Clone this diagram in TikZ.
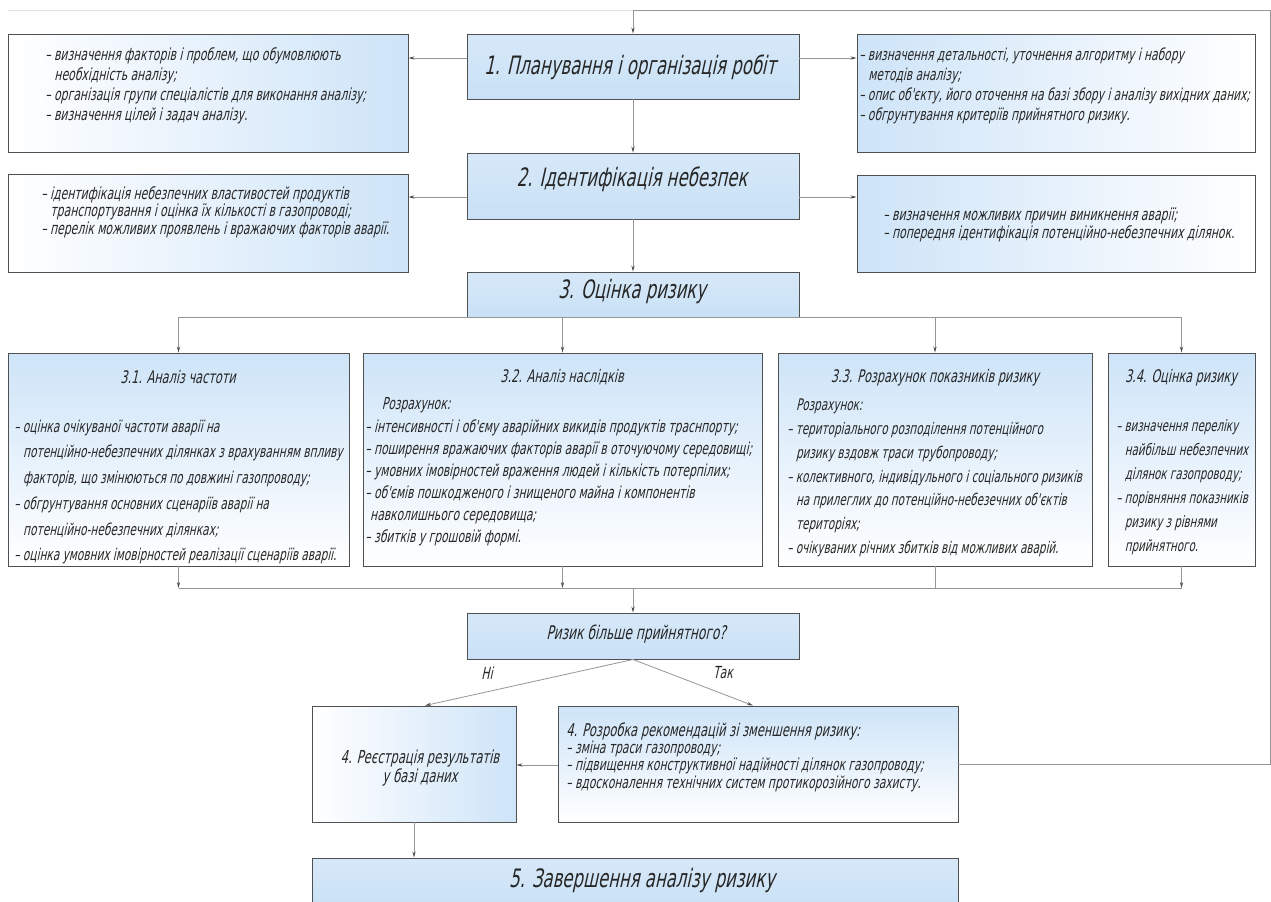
\documentclass[tikz,border=0pt]{standalone}
\usepackage{fontspec}
\newfontfamily\gost{DejaVu Sans}[FakeSlant=0.22,FakeStretch=0.65]
\usetikzlibrary{fit,arrows.meta,shadows}
\definecolor{boxblue}{RGB}{201,225,246}
\definecolor{sideblue}{RGB}{206,228,248}
\definecolor{edgegray}{RGB}{80,80,80}
\definecolor{linegray}{RGB}{150,150,150}
\tikzset{
  boxbase/.style={draw=edgegray, line width=0.7pt, inner sep=0pt,
    drop shadow={shadow xshift=0.4pt,shadow yshift=-0.9pt,opacity=0.45}},
  mainbox/.style={boxbase, top color=boxblue!75, bottom color=boxblue},
  sideL/.style={boxbase, left color=white, right color=sideblue},
  sideR/.style={boxbase, left color=sideblue, right color=white},
  subbox/.style={boxbase, top color=sideblue, bottom color=white},
  conn/.style={draw=linegray, line width=0.6pt},
  arr/.style={conn, -{Stealth[length=4.5pt,width=2.4pt,color=black!70]}},
  txt/.style={font=\gost\fontsize{12.5}{15}\selectfont, align=left, inner sep=0pt, text=black!85},
  titleT/.style={font=\gost\fontsize{19}{22}\selectfont, inner sep=0pt, text=black!85},
  subT/.style={font=\gost\fontsize{13}{15}\selectfont, inner sep=0pt, text=black!85},
  lbl/.style={font=\gost\fontsize{12.5}{14}\selectfont, inner sep=0pt, text=black!85},
}
\begin{document}
\begin{tikzpicture}[x=0.75pt,y=-0.75pt]
\useasboundingbox (0,0) rectangle (1271,901);
\fill[white] (0,0) rectangle (1271,901);

% boxes
\node[mainbox, fit={(467,34) (799,99)}] (B1) {};
\node[sideL, fit={(8,34) (408,152)}] (L1) {};
\node[sideR, fit={(857,34) (1255,152)}] (R1) {};
\node[mainbox, fit={(467,153) (799,219)}] (B2) {};
\node[sideL, fit={(8,174) (408,272)}] (L2) {};
\node[sideR, fit={(857,175) (1255,272)}] (R2) {};
\node[mainbox, fit={(467,272) (799,317)}] (B3) {};
\node[subbox, fit={(8,353) (349,566)}] (A31) {};
\node[subbox, fit={(363,353) (762,566)}] (A32) {};
\node[subbox, fit={(778,353) (1092,566)}] (A33) {};
\node[subbox, fit={(1108,353) (1255,566)}] (A34) {};
\node[mainbox, fit={(467,613) (799,659)}] (D) {};
\node[sideL, fit={(312,706) (516,822)}] (G4) {};
\node[subbox, fit={(558,706) (958,822)}] (R4) {};
\node[mainbox, fit={(312,858) (958,910)}] (B5) {};

% texts
\node[titleT] (tB1) at (630,67) {1. Планування і організація робіт};
\node[titleT] (tB2) at (632,179) {2. Ідентифікація небезпек};
\node[titleT] (tB3) at (632,292) {3. Оцінка ризику};
\node[titleT] (tB5) at (642,880) {5. Завершення аналізу ризику};

\node[txt, anchor=west] (tL1) at (45,86) {– визначення факторів і проблем, що обумовлюють\\\hspace*{0.55em}необхідність аналізу;\\– організація групи спеціалістів для виконання аналізу;\\– визначення цілей і задач аналізу.};
\node[txt, anchor=west, font=\gost\fontsize{12.3}{15}\selectfont] (tR1) at (859,86) {– визначення детальності, уточнення алгоритму і набору\\\hspace*{0.55em}методів аналізу;\\– опис об'єкту, його оточення на базі збору і аналізу вихідних даних;\\– обгрунтування критеріїв прийнятного ризику.};
\node[txt, anchor=west, font=\gost\fontsize{12.5}{13}\selectfont] (tL2) at (41,212) {– ідентифікація небезпечних властивостей продуктів\\\hspace*{0.55em}транспортування і оцінка їх кількості в газопроводі;\\– перелік можливих проявлень і вражаючих факторів аварії.};
\node[txt, anchor=west, font=\gost\fontsize{12.5}{13}\selectfont] (tR2) at (883,225) {– визначення можливих причин виникнення аварії;\\– попередня ідентифікація потенційно-небезпечних ділянок.};

\node[subT] (t31) at (178,377) {3.1. Аналіз частоти};
\node[subT] (t32) at (562,377) {3.2. Аналіз наслідків};
\node[subT] (t33) at (935,378) {3.3. Розрахунок показників ризику};
\node[subT] (t34) at (1181,378) {3.4. Оцінка ризику};

\node[txt, anchor=west, font=\gost\fontsize{12.2}{19.3}\selectfont] (b31) at (14,492) {– оцінка очікуваної частоти аварії на\\\hspace*{0.55em}потенційно-небезпечних ділянках з врахуванням впливу\\\hspace*{0.55em}факторів, що змінюються по довжині газопроводу;\\– обгрунтування основних сценаріїв аварії на\\\hspace*{0.55em}потенційно-небезпечних ділянках;\\– оцінка умовних імовірностей реалізації сценаріїв аварії.};
\node[txt, anchor=west, font=\gost\fontsize{12.4}{16.6}\selectfont] (b32) at (365,472) {\hspace*{1em}Розрахунок:\\– інтенсивності і об'єму аварійних викидів продуктів траснпорту;\\– поширення вражаючих факторів аварії в оточуючому середовищі;\\– умовних імовірностей враження людей і кількість потерпілих;\\– об'ємів пошкодженого і знищеного майна і компонентів\\\hspace*{0.3em}навколишнього середовища;\\– збитків у грошовій формі.};
\node[txt, anchor=west, font=\gost\fontsize{12}{17.8}\selectfont] (b33) at (787,478) {\hspace*{0.55em}Розрахунок:\\– територіального розподілення потенційного\\\hspace*{0.55em}ризику вздовж траси трубопроводу;\\– колективного, індивідульного і соціального ризиків\\\hspace*{0.55em}на прилеглих до потенційно-небезечних об'єктів\\\hspace*{0.55em}територіях;\\– очікуваних річних збитків від можливих аварій.};
\node[txt, anchor=west, font=\gost\fontsize{11.8}{18}\selectfont] (b34) at (1116,487) {– визначення переліку\\\hspace*{0.55em}найбільш небезпечних\\\hspace*{0.55em}ділянок газопроводу;\\– порівняння показників\\\hspace*{0.55em}ризику з рівнями\\\hspace*{0.55em}прийнятного.};

\node[lbl, font=\gost\fontsize{14.1}{16}\selectfont] (tD) at (636,634) {Ризик більше прийнятного?};
\node[lbl] (lNi) at (487,673) {Ні};
\node[lbl] (lTak) at (723,673) {Так};

\node[txt, align=center, font=\gost\fontsize{13.4}{14.5}\selectfont] (tG4) at (420,768) {4. Реєстрація результатів\\у базі даних};
\node[txt, anchor=west, font=\gost\fontsize{12.4}{12}\selectfont] (tR4) at (566,757) {{\fontsize{13.2}{12}\selectfont 4. Розробка рекомендацій зі зменшення ризику:}\\– зміна траси газопроводу;\\– підвищення конструктивної надійності ділянок газопроводу;\\– вдосконалення технічних систем протикорозійного захисту.};

% connectors
\coordinate (fbT) at (1270,10);
\coordinate (tl) at (8,10);
\draw[draw=gray!25, line width=0.6pt] (tl) -- (B1.north |- fbT);
\draw[arr] (R4.east) -| (fbT) -| (B1.north);

\draw[arr] (B1.west |- 0,58) -- (L1.east |- 0,58);
\draw[arr] (B1.east |- 0,58) -- (R1.west |- 0,58);
\draw[arr] (B1.south) -- (B2.north);
\draw[arr] (B2.west |- 0,197) -- (L2.east |- 0,197);
\draw[arr] (B2.east |- 0,197) -- (R2.west |- 0,197);
\draw[arr] (B2.south) -- (B3.north);

\draw[arr] (B3.south) -| (A31.north);
\draw[arr] (B3.south) -| (A32.north);
\draw[arr] (B3.south) -| (A33.north);
\draw[arr] (B3.south) -| (A34.north);

\coordinate (colM) at (633,588);
\draw[arr] (A31.south) -- (A31.south |- colM);
\draw[arr] (A32.south) -- (A32.south |- colM);
\draw[conn] (A33.south) -- (A33.south |- colM);
\draw[arr] (A34.south) -- (A34.south |- colM);
\draw[conn] (A31.south |- colM) -- (A34.south |- colM);
\draw[arr] (colM) -- (D.north);

\draw[arr] (D.south) -- (G4.north -| 425,0);
\draw[arr] (D.south) -- (R4.north -| 753,0);
\draw[arr] (R4.west |- 0,765) -- (G4.east |- 0,765);
\draw[arr] (G4.south) -- (B5.north -| G4.south);
\end{tikzpicture}
\end{document}
